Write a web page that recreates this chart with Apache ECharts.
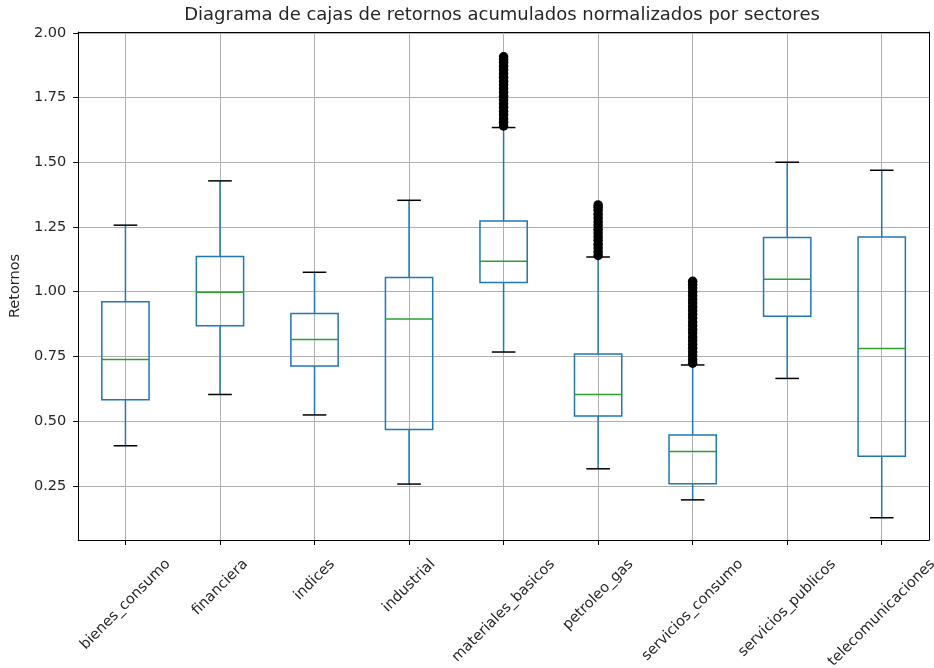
<!DOCTYPE html>
<html>
<head>
<meta charset="utf-8">
<script src="https://cdn.jsdelivr.net/npm/echarts@6/dist/echarts.min.js"></script>
<style>
  html, body { margin: 0; padding: 0; background: #ffffff; }
  #chart { width: 934px; height: 668px; }
</style>
</head>
<body>
<div id="chart"></div>
<script>
// Sectors (one box per sector, in plotting order)
const sectors = [
  'bienes_consumo', 'financiera', 'indices', 'industrial', 'materiales_basicos',
  'petroleo_gas', 'servicios_consumo', 'servicios_publicos', 'telecomunicaciones'
];

// Five-number summaries of the normalised cumulative returns
const whiskerLow  = [0.405, 0.603, 0.524, 0.257, 0.767, 0.316, 0.196, 0.665, 0.127];
const q1          = [0.583, 0.868, 0.713, 0.468, 1.036, 0.520, 0.258, 0.905, 0.364];
const median      = [0.738, 0.998, 0.815, 0.895, 1.118, 0.603, 0.383, 1.048, 0.781];
const q3          = [0.961, 1.136, 0.916, 1.055, 1.273, 0.759, 0.447, 1.209, 1.211];
const whiskerHigh = [1.257, 1.428, 1.075, 1.353, 1.634, 1.134, 0.717, 1.500, 1.469];

// Outliers above the upper whisker
const outliersMateriales = [1.640, 1.654, 1.668, 1.683, 1.697, 1.712, 1.726, 1.741, 1.755, 1.770,
  1.784, 1.799, 1.813, 1.828, 1.842, 1.857, 1.871, 1.886, 1.897, 1.907];
const outliersPetroleo = [1.140, 1.154, 1.169, 1.183, 1.198, 1.212, 1.227, 1.241, 1.256, 1.270,
  1.285, 1.299, 1.314, 1.326, 1.335];
const outliersServicios = [0.724, 0.738, 0.753, 0.767, 0.782, 0.796, 0.811, 0.825, 0.840, 0.854,
  0.869, 0.883, 0.898, 0.912, 0.927, 0.941, 0.956, 0.970, 0.985, 0.999, 1.014, 1.028, 1.040];
const outliers = {
  materiales_basicos: outliersMateriales,
  petroleo_gas: outliersPetroleo,
  servicios_consumo: outliersServicios
};

// Axis ticks
const yTicks = [0.25, 0.50, 0.75, 1.00, 1.25, 1.50, 1.75, 2.00];
const xTicks = sectors.map((s, i) => i + 1);

const Y_MIN = 0.041, Y_MAX = 2.003;
const BOX_WIDTH = 0.5;                 // in category units
const BLUE = '#1f77b4', GREEN = '#2ca02c', INK = '#262626';
const FONT = '"DejaVu Sans", "Liberation Sans", sans-serif';
const TICK_FS = 14.5;

const boxData = sectors.map((s, i) =>
  [i + 1, whiskerLow[i], q1[i], median[i], q3[i], whiskerHigh[i]]);

const outlierData = [];
sectors.forEach((s, i) => {
  (outliers[s] || []).forEach(v => outlierData.push([i + 1, v]));
});

const measureCtx = document.createElement('canvas').getContext('2d');
function textWidth(txt, size) {
  measureCtx.font = size + 'px ' + FONT;
  return measureCtx.measureText(txt).width;
}

function renderBox(params, api) {
  const x = api.value(0);
  const halfBox = api.size([BOX_WIDTH, 0])[0] / 2;
  const halfCap = halfBox / 2;
  const pLow = api.coord([x, api.value(1)]);
  const pQ1 = api.coord([x, api.value(2)]);
  const pMed = api.coord([x, api.value(3)]);
  const pQ3 = api.coord([x, api.value(4)]);
  const pHigh = api.coord([x, api.value(5)]);
  const cx = pQ1[0];
  const lw = 1.5;
  return {
    type: 'group',
    children: [
      { type: 'line', shape: { x1: cx, y1: pQ1[1], x2: cx, y2: pLow[1] },
        style: { stroke: BLUE, lineWidth: lw } },
      { type: 'line', shape: { x1: cx, y1: pQ3[1], x2: cx, y2: pHigh[1] },
        style: { stroke: BLUE, lineWidth: lw } },
      { type: 'line', shape: { x1: cx - halfCap, y1: pLow[1], x2: cx + halfCap, y2: pLow[1] },
        style: { stroke: '#000', lineWidth: lw } },
      { type: 'line', shape: { x1: cx - halfCap, y1: pHigh[1], x2: cx + halfCap, y2: pHigh[1] },
        style: { stroke: '#000', lineWidth: lw } },
      { type: 'rect', shape: { x: cx - halfBox, y: pQ3[1], width: 2 * halfBox, height: pQ1[1] - pQ3[1] },
        style: { fill: null, stroke: BLUE, lineWidth: lw } },
      { type: 'line', shape: { x1: cx - halfBox, y1: pMed[1], x2: cx + halfBox, y2: pMed[1] },
        style: { stroke: GREEN, lineWidth: lw } }
    ]
  };
}

// Rotated category labels: the rotated text box is centred under its tick
const LABEL_GAP = 16;
function renderLabel(params, api) {
  const name = sectors[params.dataIndex];
  const p = api.coord([api.value(0), Y_MIN]);
  const w = textWidth(name, TICK_FS);
  const h = TICK_FS * 1.15;
  const half = (w + h) * Math.SQRT1_2 / 2;
  return {
    type: 'text',
    x: p[0],
    y: p[1] + LABEL_GAP + half,
    rotation: Math.PI / 4,
    style: {
      text: name, fill: INK, align: 'center', verticalAlign: 'middle',
      fontSize: TICK_FS, fontFamily: FONT
    }
  };
}

const frameAxis = {
  axisLine: { show: true, lineStyle: { color: '#000', width: 1 } },
  axisTick: { show: false }, axisLabel: { show: false }, splitLine: { show: false }
};

const chart = echarts.init(document.getElementById('chart'), null, { renderer: 'canvas' });
chart.setOption({
  animation: false,
  backgroundColor: '#ffffff',
  title: {
    text: 'Diagrama de cajas de retornos acumulados normalizados por sectores',
    left: 497, top: 1, textAlign: 'center',
    textStyle: { fontFamily: FONT, fontSize: 18, fontWeight: 'normal', color: INK }
  },
  grid: { left: 77, right: 5, top: 32, bottom: 128 },
  xAxis: [
    {
      type: 'value', min: 0.5, max: 9.5, position: 'bottom',
      axisLine: { show: true, lineStyle: { color: '#000', width: 1 } },
      axisTick: { show: true, customValues: xTicks, length: 5, lineStyle: { color: '#000' } },
      axisLabel: { show: false, customValues: xTicks },
      splitLine: { show: true, lineStyle: { color: '#b0b0b0', width: 1 } }
    },
    Object.assign({ type: 'value', min: 0.5, max: 9.5, position: 'top' }, frameAxis)
  ],
  yAxis: [
    {
      type: 'value', min: Y_MIN, max: Y_MAX, position: 'left',
      name: 'Retornos', nameLocation: 'middle', nameGap: 53,
      nameTextStyle: { fontFamily: FONT, fontSize: TICK_FS, color: INK },
      axisLine: { show: true, lineStyle: { color: '#000', width: 1 } },
      axisTick: { show: true, customValues: yTicks, length: 5, lineStyle: { color: '#000' } },
      axisLabel: {
        customValues: yTicks, margin: 12,
        fontFamily: FONT, fontSize: TICK_FS, color: INK,
        formatter: v => v.toFixed(2)
      },
      splitLine: { show: true, lineStyle: { color: '#b0b0b0', width: 1 } }
    },
    Object.assign({ type: 'value', min: Y_MIN, max: Y_MAX, position: 'right' }, frameAxis)
  ],
  series: [
    {
      type: 'custom', name: 'cajas', renderItem: renderBox,
      data: boxData, encode: { x: 0, y: [1, 2, 3, 4, 5] }, z: 3
    },
    {
      type: 'scatter', name: 'atipicos', data: outlierData,
      symbol: 'circle', symbolSize: 9.5,
      itemStyle: { color: '#000', opacity: 1 }, z: 4
    },
    {
      type: 'custom', name: 'etiquetas', renderItem: renderLabel, clip: false,
      data: xTicks.map(v => [v, Y_MIN]), encode: { x: 0, y: 1 }, z: 5, silent: true
    }
  ]
});
</script>
</body>
</html>
